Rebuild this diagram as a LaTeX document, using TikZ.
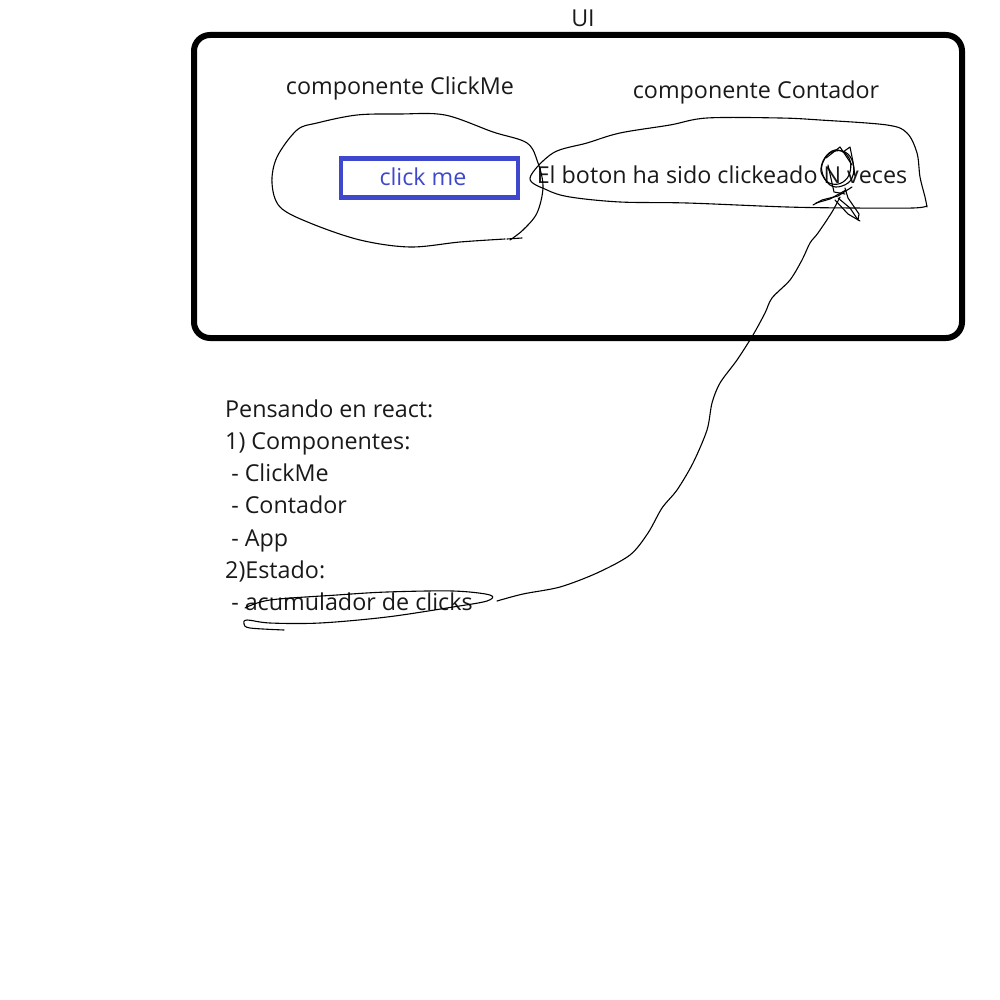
\documentclass[tikz,border=0pt]{standalone}
\usepackage{fontspec}
\setmainfont{Open Sans}
\definecolor{paintblue}{RGB}{63,72,204}
\definecolor{inkgray}{RGB}{25,25,25}
\begin{document}
\begin{tikzpicture}[x=1pt,y=-1pt,
  lbl/.style={font=\fontsize{23.3}{27}\selectfont, text=inkgray, inner sep=0pt},
  listline/.style={lbl, anchor=base west},
  pen/.style={line width=1.1pt, line join=round, line cap=round},
  frame/.style={line width=6pt, rounded corners=16pt},
  btn/.style={draw=paintblue, line width=4.5pt, minimum width=177pt, minimum height=39pt, inner sep=0pt}]
\useasboundingbox (0,0) rectangle (1000,1000);
% main UI frame
\draw[frame] (194,35) rectangle (962,338);
\node[lbl] (ui) at (583,18) {UI};
\node[lbl] (tclick) at (400,88) {componente ClickMe};
\node[lbl] (tcont) at (756,92) {componente Contador};
% button
\node[btn] (button) at (429.5,178) {};
\node[lbl, text=paintblue] (btntext) at (423,177) {click me};
% counter text
\node[lbl] (ctext) at (722,175) {El boton ha sido clickeado N veces};
% left hand-drawn ellipse (ClickMe)
\draw[pen] plot[smooth, tension=0.55] coordinates {
  (510,240) (523,230) (537,213) (543,187) (538,163) (527,143) (493,132) (445,115)
  (400,114) (357,115) (317,123) (297,130) (277,157) (272,183) (280,207)
  (310,223) (360,240) (410,247) (460,242) (505,239)};
\draw[pen] (507,239) -- (522,238);
% right hand-drawn ellipse (Contador)
\draw[pen] plot[smooth, tension=0.55] coordinates {
  (927,207) (925,197) (920,177) (917,153) (907,133) (887,125) (820,120) (780,118)
  (707,118) (670,125) (620,133) (587,143) (553,153) (530,178) (547,190)
  (570,197) (620,202) (687,203) (787,207) (853,208) (913,208) (927,206)};
% scribble around N
\draw[pen] plot[smooth cycle, tension=0.7] coordinates {
  (824,160) (832,152) (845,152) (853,163) (852,178) (842,186) (830,185) (822,172)};
\draw[pen] plot[smooth cycle, tension=0.7] coordinates {
  (821,168) (827,155) (838,150) (849,158) (850,172) (843,182) (832,184) (824,178)};
\draw[pen] (826,158) -- (840,147) -- (852,165);
\draw[pen] (843,152) -- (850,147) -- (853,162) -- (855,176);
\draw[pen] (828,165) -- (834,192) -- (845,194);
\draw[pen] (813,205) -- (822,200) -- (838,196) -- (852,187);
\draw[pen] (816,203) -- (830,199) -- (846,190);
\draw[pen] (838,198) -- (850,208) -- (858,220) -- (859,214) -- (848,198) -- (845,188);
\draw[pen] (835,200) -- (848,214) -- (860,221);
% connector curve from counter scribble to the state item
\coordinate (cstart) at (840,197);
\coordinate (cend) at (497,601);
\draw[pen] plot[smooth, tension=0.5] coordinates {
  (cstart) (832,212) (818,233) (810,243) (802,260) (790,280) (772,298) (765,313)
  (753,335) (737,360) (720,383) (712,403) (707,430) (693,463) (677,490)
  (662,508) (648,533) (630,555) (597,573) (560,587) (523,594) (cend)};
% text block
\node[listline] (l1) at (225,417) {Pensando en react:};
\node[listline] (l2) at (225,449) {1) Componentes:};
\node[listline] (l3) at (225,481) {\ - ClickMe};
\node[listline] (l4) at (225,513) {\ - Contador};
\node[listline] (l5) at (225,546) {\ - App};
\node[listline] (l6) at (225,578) {2)Estado:};
\node[listline] (l7) at (225,610) {\ - acumulador de clicks};
% ellipse around state item
\draw[pen] plot[smooth, tension=0.55] coordinates {
  (245,608) (270,600) (337,595) (387,592) (453,591) (490,595) (487,601)
  (453,607) (387,617) (320,623) (270,623) (247,620) (244,624) (250,628) (284,630)};
\end{tikzpicture}
\end{document}
